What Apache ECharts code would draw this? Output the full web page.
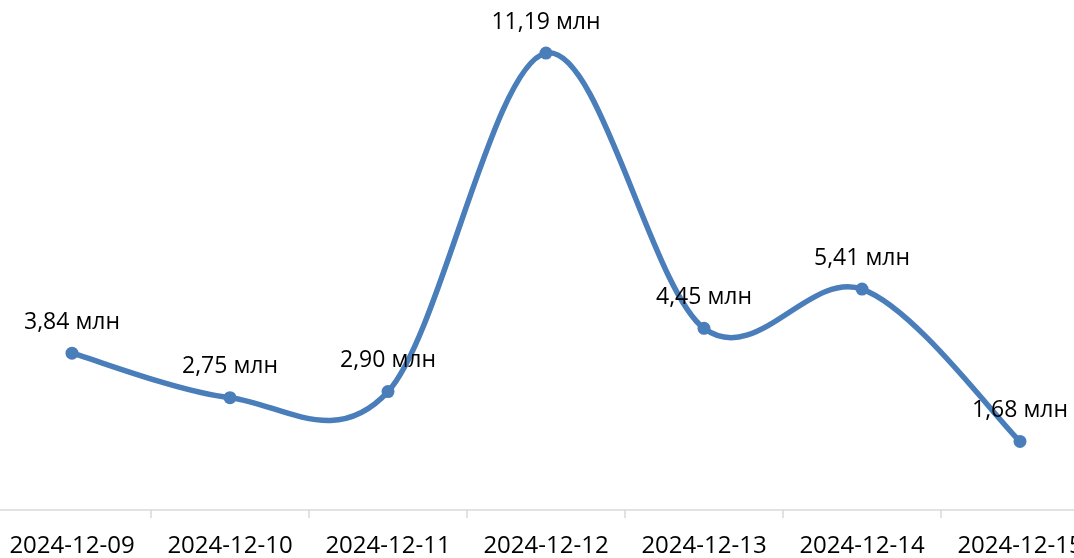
<!DOCTYPE html>
<html><head><meta charset="utf-8">
<script src="https://cdn.jsdelivr.net/npm/echarts@6/dist/echarts.min.js"></script>
<style>html,body{margin:0;padding:0;background:#fff}#c{width:1074px;height:558px}</style>
</head><body><div id="c"></div>
<script>
const categories = ['2024-12-09','2024-12-10','2024-12-11','2024-12-12','2024-12-13','2024-12-14','2024-12-15'];
const values = [3.84, 2.75, 2.90, 11.19, 4.45, 5.41, 1.68];
const unit = ' млн';
const lineColor = '#4a7ebb';
const chart = echarts.init(document.getElementById('c'));
function renderSegment(params, api) {
  const i = params.dataIndex;
  if (i >= values.length - 1) return null;
  const P = j => api.coord([Math.max(0, Math.min(values.length - 1, j)), values[Math.max(0, Math.min(values.length - 1, j))]]);
  const p0 = P(i - 1), p1 = P(i), p2 = P(i + 1), p3 = P(i + 2);
  const k = 1 / 6;
  return {
    type: 'bezierCurve',
    shape: {
      x1: p1[0], y1: p1[1], x2: p2[0], y2: p2[1],
      cpx1: p1[0] + (p2[0] - p0[0]) * k, cpy1: p1[1] + (p2[1] - p0[1]) * k,
      cpx2: p2[0] - (p3[0] - p1[0]) * k, cpy2: p2[1] - (p3[1] - p1[1]) * k
    },
    style: {stroke: lineColor, lineWidth: 5.5, fill: null, lineCap: 'round'}
  };
}
chart.setOption({
  animation: false,
  grid: {left: -7, width: 1106, top: 20, height: 490, containLabel: false, outerBoundsMode: 'none'},
  xAxis: {
    type: 'category', data: categories, boundaryGap: true,
    axisLine: {lineStyle: {color: '#d9d9d9', width: 1.5}},
    axisTick: {show: true, length: 8, lineStyle: {color: '#d9d9d9', width: 1.5}},
    axisLabel: {color: '#000', fontFamily: 'Open Sans', fontSize: 24, margin: 24, interval: 0}
  },
  yAxis: {type: 'value', min: 0, max: 12, show: false, splitLine: {show: false}},
  series: [{
    type: 'custom', data: values.map((v, i) => [i, v]), renderItem: renderSegment,
    encode: {x: 0, y: 1}, z: 2
  }, {
    type: 'scatter', data: values, z: 3,
    itemStyle: {color: lineColor, opacity: 1},
    symbol: 'circle', symbolSize: 13,
    label: {show: true, position: 'top', distance: 13, color: '#000', fontFamily: 'Open Sans', fontSize: 23,
      formatter: p => p.value.toFixed(2).replace('.', ',') + unit}
  }]
});
</script></body></html>
